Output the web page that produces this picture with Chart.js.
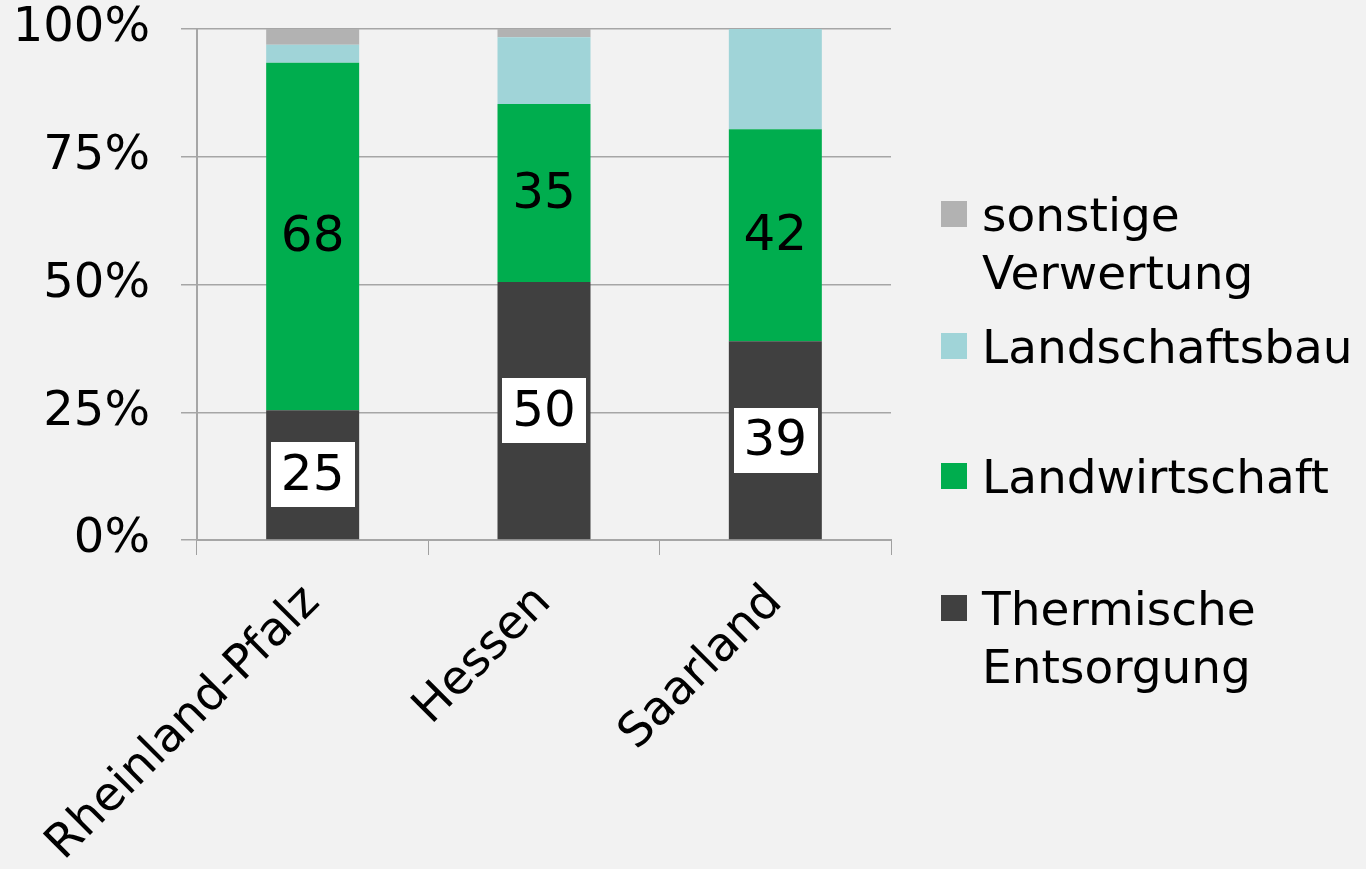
<!DOCTYPE html>
<html>
<head>
<meta charset="utf-8">
<script src="https://cdn.jsdelivr.net/npm/chart.js@4.4.1/dist/chart.umd.min.js"></script>
<style>
html,body{margin:0;padding:0;background:#f2f2f2;overflow:hidden;}
#wrap{width:1366px;height:869px;position:relative;}
</style>
</head>
<body>
<div id="wrap"><canvas id="c"></canvas></div>
<script>
// ---- data ----
const categories = ['Rheinland-Pfalz', 'Hessen', 'Saarland'];
const seriesNames = ['Thermische Entsorgung', 'Landwirtschaft', 'Landschaftsbau', 'sonstige Verwertung'];
const thermische = [25.4, 50.5, 38.9];
const landwirtschaft = [68.0, 34.8, 41.5];
const landschaftsbau = [3.5, 13.1, 19.6];
const sonstige = [3.1, 1.6, 0];
const thermischeLabels = [25, 50, 39];
const landwirtschaftLabels = [68, 35, 42];
const yTicks = [0, 25, 50, 75, 100];

const colors = ['#404040', '#00ad4e', '#a0d4d8', '#b2b2b2'];
const FONT = '"DejaVu Sans", Verdana, sans-serif';

const bgPlugin = {
  id: 'bg',
  beforeDraw(chart) {
    const ctx = chart.ctx;
    ctx.save();
    ctx.fillStyle = '#f2f2f2';
    ctx.fillRect(0, 0, chart.width, chart.height);
    ctx.restore();
  }
};

const labelPlugin = {
  id: 'labels',
  afterDatasetsDraw(chart) {
    const ctx = chart.ctx;
    ctx.save();
    ctx.font = '50px ' + FONT;
    ctx.textAlign = 'center';
    ctx.textBaseline = 'middle';
    const sets = [[0, thermischeLabels, true], [1, landwirtschaftLabels, false]];
    sets.forEach(([di, labels, box]) => {
      const meta = chart.getDatasetMeta(di);
      meta.data.forEach((bar, j) => {
        const cx = bar.x;
        const cy = (bar.y + bar.base) / 2;
        const txt = String(labels[j]);
        if (box) {
          const w = ctx.measureText(txt).width + 20;
          const h = 65;
          ctx.fillStyle = '#ffffff';
          ctx.fillRect(Math.round(cx - w / 2), Math.round(cy - h / 2), Math.round(w), h);
        }
        ctx.fillStyle = '#000000';
        ctx.fillText(txt, cx, cy + 2);
      });
    });
    ctx.restore();
  }
};

const legendPlugin = {
  id: 'customLegend',
  afterDraw(chart) {
    const ctx = chart.ctx;
    ctx.save();
    const x0 = chart.chartArea.right + 50;
    const centers = [214, 346, 476, 608];
    const lineH = 58;
    ctx.font = '47px ' + FONT;
    ctx.textAlign = 'left';
    ctx.textBaseline = 'alphabetic';
    for (let k = 0; k < seriesNames.length; k++) {
      const di = seriesNames.length - 1 - k;
      const cy = centers[k];
      ctx.fillStyle = colors[di];
      ctx.fillRect(x0, cy - 13, 26, 26);
      ctx.fillStyle = '#000000';
      const lines = seriesNames[di].split(' ');
      lines.forEach((ln, li) => {
        ctx.fillText(ln, x0 + 41, cy + 17 + li * lineH);
      });
    }
    ctx.restore();
  }
};

const datasets = [thermische, landwirtschaft, landschaftsbau, sonstige].map((d, i) => ({
  label: seriesNames[i],
  data: d,
  backgroundColor: colors[i],
  borderWidth: 0,
  categoryPercentage: 1,
  barPercentage: 0.402
}));

new Chart(document.getElementById('c'), {
  type: 'bar',
  data: { labels: categories, datasets },
  options: {
    responsive: true,
    maintainAspectRatio: false,
    animation: false,
    layout: { padding: { top: 0, right: 475, left: 0, bottom: 0 } },
    plugins: { legend: { display: false }, tooltip: { enabled: false } },
    scales: {
      x: {
        stacked: true,
        afterFit(s) { s.height = 869 - 540; },
        grid: { display: true, drawOnChartArea: false, drawTicks: true, tickLength: 15, color: '#a0a0a0', offset: true },
        border: { display: true, color: '#a6a6a6', width: 2 },
        ticks: {
          color: '#000000',
          font: { family: FONT, size: 47 },
          minRotation: 45, maxRotation: 45,
          padding: 20
        }
      },
      y: {
        stacked: true,
        min: 0, max: 100,
        afterFit(s) { s.width = 197; s.paddingTop = 29; },
        afterBuildTicks(s) { s.ticks = yTicks.map(v => ({ value: v })); },
        grid: { color: '#a6a6a6', lineWidth: 1.5, tickLength: 16, drawTicks: true },
        border: { display: true, color: '#a6a6a6', width: 2 },
        ticks: {
          color: '#000000',
          font: { family: FONT, size: 48 },
          padding: 31,
          callback: v => v + '%'
        }
      }
    }
  },
  plugins: [bgPlugin, labelPlugin, legendPlugin]
});
</script>
</body>
</html>
